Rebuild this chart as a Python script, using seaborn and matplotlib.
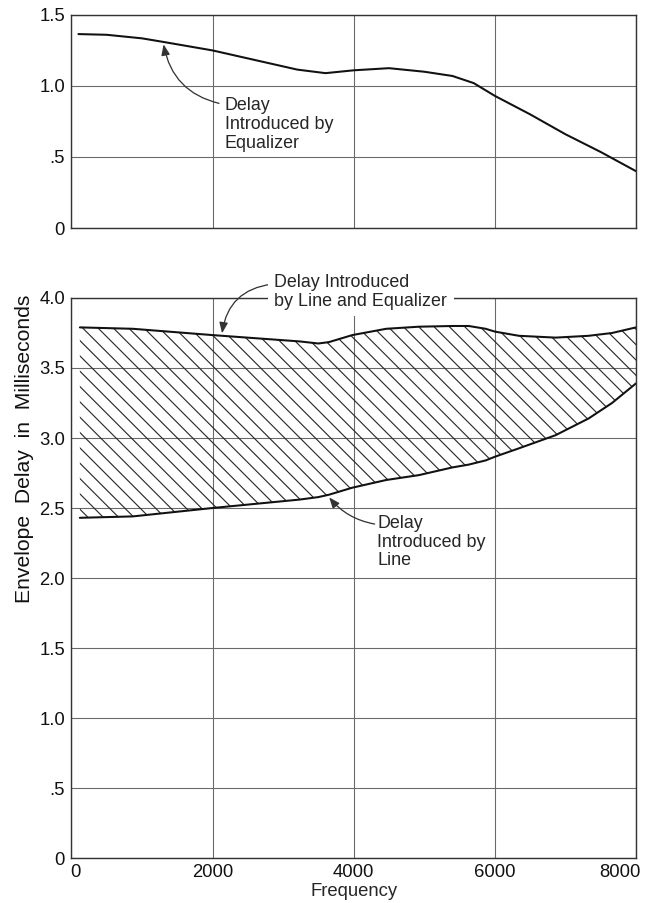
import numpy as np
import pandas as pd
import matplotlib
matplotlib.use("Agg")
import matplotlib.pyplot as plt
import matplotlib.transforms as mtransforms
import seaborn as sns

# Envelope delay introduced by the equalizer (ms) vs frequency (c/s)
freq_eq = [100, 500, 1000, 1300, 2000, 2800, 3200, 3600, 4000, 4500,
           5000, 5400, 5700, 6000, 6500, 7000, 7500, 8000]
delay_eq = [1.365, 1.36, 1.335, 1.31, 1.25, 1.16, 1.115, 1.09, 1.11, 1.125,
            1.10, 1.07, 1.02, 0.93, 0.80, 0.66, 0.535, 0.40]

# Envelope delay of line alone and of line plus equalizer (ms)
freq_bottom = [120, 870, 2000, 3230, 3500, 3650, 3980, 4460, 4925, 5400,
               5630, 5870, 6000, 6340, 6860, 7330, 7660, 8000]
delay_total = [3.79, 3.78, 3.735, 3.69, 3.675, 3.685, 3.735, 3.78, 3.795, 3.80,
               3.80, 3.78, 3.76, 3.73, 3.717, 3.73, 3.75, 3.79]
delay_line = [2.43, 2.44, 2.50, 2.56, 2.578, 2.595, 2.645, 2.70, 2.735, 2.79,
              2.81, 2.84, 2.866, 2.926, 3.02, 3.14, 3.25, 3.39]

x_ticks = [0, 2000, 4000, 6000, 8000]
top_yticks = [0, 0.5, 1.0, 1.5]
top_ylabels = ["0", ".5", "1.0", "1.5"]
bot_yticks = [0, 0.5, 1.0, 1.5, 2.0, 2.5, 3.0, 3.5, 4.0]
bot_ylabels = ["0", ".5", "1.0", "1.5", "2.0", "2.5", "3.0", "3.5", "4.0"]

sns.set_style("white")
plt.rcParams["font.family"] = ["Liberation Sans", "DejaVu Sans"]
plt.rcParams["hatch.linewidth"] = 0.9
plt.rcParams["hatch.color"] = "#2a2a2a"

DPI = 92
fig = plt.figure(figsize=(655 / DPI, 903 / DPI), dpi=DPI)
ax_top = fig.add_axes([0.109, 0.7475, 0.862, 0.236])
ax_bot = fig.add_axes([0.109, 0.0498, 0.862, 0.6202])

grid_kw = dict(color="#6a6a6a", linewidth=0.85)
tick_fs = 14.5

for ax in (ax_top, ax_bot):
    ax.set_xlim(0, 8000)
    ax.set_xticks(x_ticks)
    ax.grid(True, **grid_kw)
    ax.set_axisbelow(True)
    ax.tick_params(length=0, labelsize=tick_fs, pad=5, colors="#111111")
    for sp in ax.spines.values():
        sp.set_color("#333333")
        sp.set_linewidth(1.1)

# --- top panel: equalizer delay ---
ax_top.set_ylim(0, 1.5)
ax_top.set_yticks(top_yticks)
ax_top.set_yticklabels(top_ylabels)
ax_top.set_xticklabels([])
sns.lineplot(x=freq_eq, y=delay_eq, ax=ax_top, color="#111111", linewidth=1.6)
ax_top.set_xlabel("")
ax_top.set_ylabel("")

ax_top.annotate("Delay\nIntroduced by\nEqualizer",
                xy=(1300, 1.31), xytext=(2170, 0.73),
                ha="left", va="center", fontsize=14, linespacing=1.15,
                arrowprops=dict(arrowstyle="-|>,head_length=0.5,head_width=0.2",
                                color="#333333", lw=1.0, relpos=(0, 0.86),
                                connectionstyle="arc3,rad=-0.35"))

# --- bottom panel: line and line + equalizer ---
ax_bot.set_ylim(0, 4.0)
ax_bot.set_yticks(bot_yticks)
ax_bot.set_yticklabels(bot_ylabels)
ax_bot.fill_between(freq_bottom, delay_line, delay_total, facecolor="none",
                    edgecolor="#2a2a2a", hatch="\\\\", linewidth=0, zorder=1.5)
sns.lineplot(x=freq_bottom, y=delay_total, ax=ax_bot, color="#111111", linewidth=1.6)
sns.lineplot(x=freq_bottom, y=delay_line, ax=ax_bot, color="#111111", linewidth=1.6)
ax_bot.set_xlabel("Frequency", fontsize=14.5, labelpad=1)
ax_bot.set_ylabel("")

# nudge the end labels of the frequency axis inward
xlabels = ax_bot.get_xticklabels()
xlabels[0].set_transform(xlabels[0].get_transform()
                         + mtransforms.ScaledTranslation(4 / DPI, 0, fig.dpi_scale_trans))
xlabels[-1].set_transform(xlabels[-1].get_transform()
                          + mtransforms.ScaledTranslation(-16 / DPI, 0, fig.dpi_scale_trans))

ax_bot.annotate("Delay Introduced\nby Line and Equalizer",
                xy=(2130, 3.73), xytext=(2876, 4.043),
                ha="left", va="center", fontsize=14, linespacing=1.1,
                bbox=dict(boxstyle="square,pad=0.35", fc="white", ec="none"),
                arrowprops=dict(arrowstyle="-|>,head_length=0.5,head_width=0.2",
                                color="#333333", lw=1.0, relpos=(0, 0.73),
                                patchA=None,
                                connectionstyle="arc3,rad=0.4"))

ax_bot.annotate("Delay\nIntroduced by\nLine",
                xy=(3630, 2.59), xytext=(4332, 2.257),
                ha="left", va="center", fontsize=14, linespacing=1.15,
                bbox=dict(boxstyle="square,pad=0.05", fc="white", ec="none"),
                arrowprops=dict(arrowstyle="-|>,head_length=0.5,head_width=0.2",
                                color="#333333", lw=1.0, relpos=(0, 0.82),
                                patchA=None,
                                connectionstyle="arc3,rad=-0.2"))

fig.text(25 / 655, 1 - 449 / 903, "Envelope  Delay  in  Milliseconds",
         rotation=90, ha="center", va="center", fontsize=16.5, color="#111111")

fig.savefig("out.png", dpi=DPI)
